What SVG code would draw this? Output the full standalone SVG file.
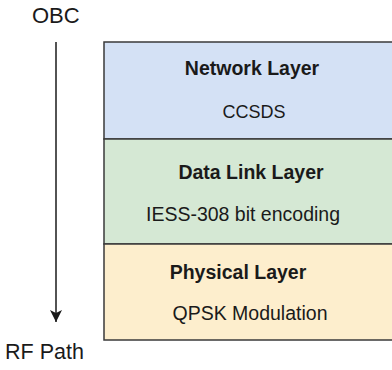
<svg xmlns="http://www.w3.org/2000/svg" width="392" height="370" viewBox="0 0 392 370">
<defs>
<style>
.lbl{font-family:"Liberation Sans",Arial,sans-serif;fill:#1a1a1a}
.b{font-weight:bold;font-size:19.5px}
.r{font-size:19.5px}
.box{stroke:#3a3a3a;stroke-width:1.5}
</style>
<marker id="ah" markerWidth="12" markerHeight="12" refX="10" refY="5" orient="auto" markerUnits="userSpaceOnUse" viewBox="0 0 10 10">
<path d="M0,0 L10,5 L0,10 L2.5,5 Z" fill="#1a1a1a"/>
</marker>
</defs>
<rect width="392" height="370" fill="#ffffff"/>
<text class="lbl" x="32" y="23" font-size="22">OBC</text>
<text class="lbl" x="5" y="359" font-size="21.5">RF Path</text>
<g id="connectors">
<line x1="56" y1="42" x2="56" y2="322" stroke="#1a1a1a" stroke-width="1.5" marker-end="url(#ah)"/>
</g>
<g id="network">
<rect class="box" x="104" y="42" width="300" height="97" fill="#d4e1f5"/>
<text class="lbl b" x="252" y="75" text-anchor="middle">Network Layer</text>
<text class="lbl r" x="254" y="118" text-anchor="middle" style="font-size:18px">CCSDS</text>
</g>
<g id="datalink">
<rect class="box" x="104" y="139" width="300" height="105" fill="#d5e8d4"/>
<text class="lbl b" x="251" y="179" text-anchor="middle">Data Link Layer</text>
<text class="lbl r" x="243" y="221" text-anchor="middle">IESS-308 bit encoding</text>
</g>
<g id="physical">
<rect class="box" x="104" y="244" width="300" height="96" fill="#fdeecd"/>
<text class="lbl b" x="238" y="279" text-anchor="middle">Physical Layer</text>
<text class="lbl r" x="250" y="320" text-anchor="middle">QPSK Modulation</text>
</g>
</svg>
